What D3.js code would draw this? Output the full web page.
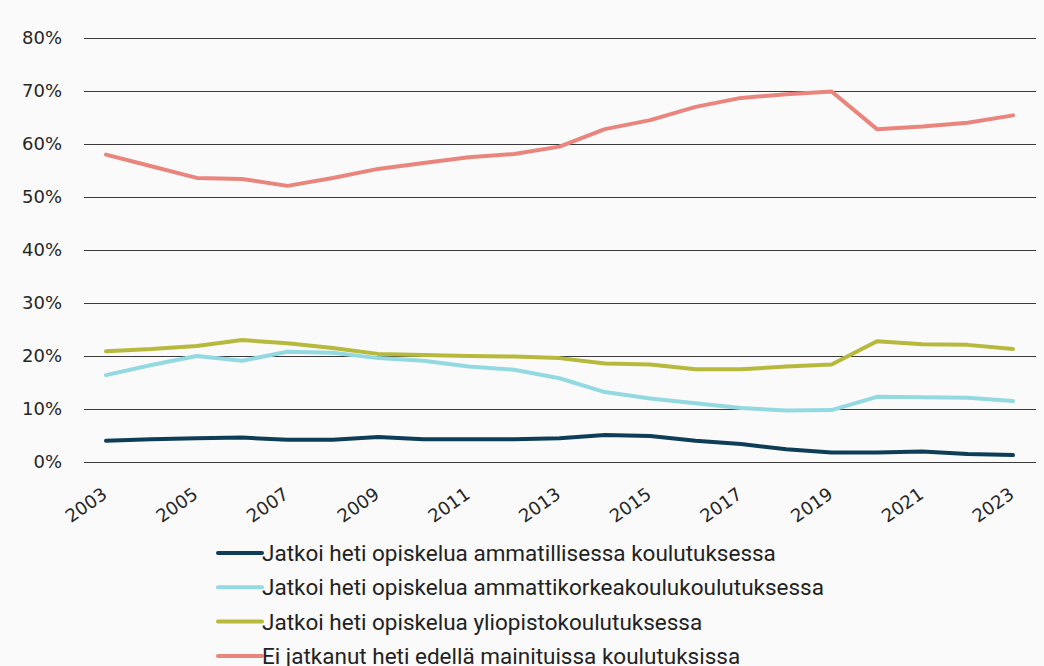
<!DOCTYPE html>
<html>
<head>
<meta charset="utf-8">
<script src="https://cdn.jsdelivr.net/npm/d3@7"></script>
<style>
  body { margin: 0; background: #fafafa; }
  svg { display: block; }
</style>
</head>
<body>
<div id="chart"></div>
<script>
// data (percent)
const years = d3.range(2003, 2024);
const ammatillinen = [4.0, 4.3, 4.5, 4.6, 4.2, 4.2, 4.7, 4.3, 4.3, 4.3, 4.5, 5.1, 4.9, 4.0, 3.4, 2.4, 1.8, 1.8, 2.0, 1.5, 1.3];
const amk = [16.4, 18.3, 20.0, 19.1, 20.8, 20.6, 19.6, 19.1, 18.0, 17.4, 15.8, 13.2, 12.0, 11.1, 10.2, 9.7, 9.8, 12.3, 12.2, 12.1, 11.5];
const yliopisto = [20.9, 21.3, 21.9, 23.0, 22.4, 21.5, 20.4, 20.2, 20.0, 19.9, 19.6, 18.6, 18.4, 17.5, 17.5, 18.0, 18.4, 22.8, 22.2, 22.1, 21.3];
const eiJatkanut = [58.0, 55.8, 53.6, 53.4, 52.1, 53.6, 55.3, 56.4, 57.5, 58.1, 59.5, 62.8, 64.5, 67.0, 68.7, 69.4, 69.9, 62.8, 63.3, 64.0, 65.4];
const yTicks = [0, 10, 20, 30, 40, 50, 60, 70, 80];
const xTicks = d3.range(2003, 2024, 2);

const series = [
  { name: "Jatkoi heti opiskelua ammatillisessa koulutuksessa", values: ammatillinen, color: "#0e3d57" },
  { name: "Jatkoi heti opiskelua ammattikorkeakoulukoulutuksessa", values: amk, color: "#93d9e2" },
  { name: "Jatkoi heti opiskelua yliopistokoulutuksessa", values: yliopisto, color: "#b6b93c" },
  { name: "Ei jatkanut heti edellä mainituissa koulutuksissa", values: eiJatkanut, color: "#e9857c" }
];

const W = 1044, H = 666;
const axisFont = "DejaVu Sans, sans-serif";

const svg = d3.select("#chart").append("svg")
  .attr("width", W)
  .attr("height", H);

svg.append("rect").attr("width", W).attr("height", H).attr("fill", "#fafafa");

const x = d3.scaleLinear().domain([2003, 2023]).range([106, 1013]);
const y = d3.scaleLinear().domain([0, 80]).range([462, 38]);

// gridlines + y labels
const yAxis = d3.axisLeft(y)
  .tickValues(yTicks)
  .tickSize(-(1036 - 84))
  .tickPadding(22)
  .tickFormat(d => d + "%");

svg.append("g")
  .attr("transform", "translate(84,0)")
  .call(yAxis)
  .call(g => g.select(".domain").remove())
  .call(g => g.selectAll(".tick line").attr("stroke", "#3a3a3a").attr("stroke-width", 1))
  .call(g => g.selectAll(".tick text")
    .attr("font-family", axisFont)
    .attr("font-size", 18)
    .attr("fill", "#262626"));

// x labels, rotated
const xAxis = d3.axisBottom(x)
  .tickValues(xTicks)
  .tickSize(0)
  .tickFormat(d3.format("d"));

svg.append("g")
  .attr("transform", "translate(0,462)")
  .call(xAxis)
  .call(g => g.select(".domain").remove())
  .call(g => g.selectAll(".tick text")
    .attr("font-family", axisFont)
    .attr("font-size", 18)
    .attr("fill", "#262626")
    .attr("text-anchor", "end")
    .attr("x", 0)
    .attr("y", 0)
    .attr("dy", 0)
    .attr("transform", "translate(2,35) rotate(-35)"));

// lines
const line = d3.line()
  .x((d, i) => x(years[i]))
  .y(d => y(d));

svg.append("g").selectAll("path")
  .data(series)
  .join("path")
  .attr("d", d => line(d.values))
  .attr("fill", "none")
  .attr("stroke", d => d.color)
  .attr("stroke-width", 4)
  .attr("stroke-linecap", "round")
  .attr("stroke-linejoin", "round");

// legend
const legend = svg.append("g").attr("transform", "translate(218,553)");
const item = legend.selectAll("g")
  .data(series)
  .join("g")
  .attr("transform", (d, i) => `translate(0,${i * 34.3})`);

item.append("line")
  .attr("x1", 0).attr("x2", 44)
  .attr("stroke", d => d.color)
  .attr("stroke-width", 4)
  .attr("stroke-linecap", "round");

item.append("text")
  .attr("x", 44)
  .attr("dy", "0.36em")
  .attr("font-family", "Roboto, sans-serif")
  .attr("font-size", 22.5)
  .attr("fill", "#222")
  .text(d => d.name);
</script>
</body>
</html>
